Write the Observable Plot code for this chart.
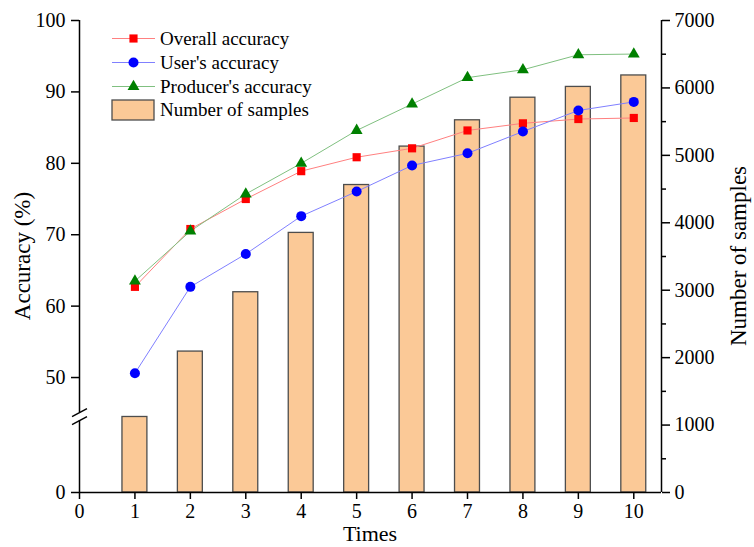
<!DOCTYPE html>
<html><head><meta charset="utf-8">
<script src="https://cdn.jsdelivr.net/npm/d3@7"></script>
<script src="https://cdn.jsdelivr.net/npm/@observablehq/plot@0.6"></script>
<style>
body{margin:0;background:#fff;}
#chart{width:754px;height:547px;}
</style></head><body><div id="chart"></div>
<script>
// ---- data ----
const times = [1, 2, 3, 4, 5, 6, 7, 8, 9, 10];
const overallAccuracy = [62.7, 70.8, 75.0, 78.9, 80.85, 82.1, 84.6, 85.6, 86.2, 86.35];
const usersAccuracy = [50.6, 62.7, 67.3, 72.6, 76.05, 79.7, 81.4, 84.45, 87.4, 88.6];
const producersAccuracy = [63.5, 70.5, 75.7, 80.0, 84.6, 88.3, 92.0, 93.1, 95.2, 95.3];
const numberOfSamples = [1120, 2090, 2970, 3850, 4560, 5130, 5520, 5855, 6015, 6185];
const xTicks = [0, 1, 2, 3, 4, 5, 6, 7, 8, 9, 10];
const accTicks = [0, 50, 60, 70, 80, 90, 100];
const sampleTicks = [0, 1000, 2000, 3000, 4000, 5000, 6000, 7000];
const sampleMinorTicks = [500, 1500, 2500, 3500, 4500, 5500, 6500];
const seriesNames = ["Overall accuracy", "User's accuracy", "Producer's accuracy", "Number of samples"];

// dual axis: broken left accuracy axis (0 | 50..100) expressed in right-axis units
const accToS = d3.scaleLinear().domain([0, 50, 100]).range([0, 1705, 7000]);
const breakAcc = 33;

const rows = times.map((t, i) => ({
  t, overall: overallAccuracy[i], user: usersAccuracy[i], producer: producersAccuracy[i], n: numberOfSamples[i]
}));

const font = "'Liberation Serif','Times New Roman',serif";
const halfW = 0.225;
const pxPerS = 472 / 7000;
const breakS = accToS(breakAcc);
const slashRise = 8 / pxPerS;
const gapS = 4 / pxPerS;

const lineCol = {overall: "#ff8080", user: "#8080ff", producer: "#80c080"};
const dotCol = {overall: "#ff0000", user: "#0000ff", producer: "#008000"};

const plot = Plot.plot({
  width: 754, height: 547,
  marginLeft: 79, marginRight: 93, marginTop: 20, marginBottom: 55,
  style: {fontFamily: font, fontSize: "20px", color: "#000", background: "#fff", overflow: "visible"},
  x: {domain: [0, 10.5]},
  y: {domain: [0, 7000]},
  marks: [
    Plot.rect(rows, {x1: d => d.t - halfW, x2: d => d.t + halfW, y1: 0, y2: "n",
      fill: "#fbc997", stroke: "#4d4d4d", strokeWidth: 1.3}),
    Plot.line(rows, {x: "t", y: d => accToS(d.overall), stroke: lineCol.overall, strokeWidth: 1}),
    Plot.line(rows, {x: "t", y: d => accToS(d.user), stroke: lineCol.user, strokeWidth: 1}),
    Plot.line(rows, {x: "t", y: d => accToS(d.producer), stroke: lineCol.producer, strokeWidth: 1}),
    Plot.dot(rows, {x: "t", y: d => accToS(d.overall), symbol: "square", r: 4.6, fill: dotCol.overall}),
    Plot.dot(rows, {x: "t", y: d => accToS(d.user), symbol: "circle", r: 5, fill: dotCol.user}),
    Plot.dot(rows, {x: "t", y: d => accToS(d.producer), symbol: "triangle", r: 4.4, fill: dotCol.producer}),
    // axis lines
    Plot.ruleX([0], {y1: 0, y2: breakS - gapS, stroke: "#000", strokeWidth: 1.5}),
    Plot.ruleX([0], {y1: breakS + gapS, y2: 7000, stroke: "#000", strokeWidth: 1.5}),
    Plot.ruleX([10.5], {y1: 0, y2: 7000, stroke: "#000", strokeWidth: 1.5}),
    Plot.ruleY([0], {x1: 0, x2: 10.5, stroke: "#000", strokeWidth: 1.5}),
    // axis break slashes
    Plot.link([0], {x1: -0.135, x2: 0.135, y1: breakS, y2: breakS + slashRise, stroke: "#000", strokeWidth: 1.5}),
    Plot.link([0], {x1: -0.135, x2: 0.135, y1: breakS - slashRise, y2: breakS, stroke: "#000", strokeWidth: 1.5}),
    // axes
    Plot.axisX({ticks: xTicks, tickSize: 7, tickPadding: 4, tickFormat: d => String(d), label: null, strokeWidth: 1.5}),
    Plot.axisY({anchor: "left", ticks: accTicks.map(a => accToS(a)), tickSize: 8, tickPadding: 6,
      tickFormat: v => String(Math.round(accToS.invert(v))), label: null, strokeWidth: 1.5}),
    Plot.axisY({anchor: "right", ticks: sampleTicks, tickSize: 8, tickPadding: 5,
      tickFormat: d => String(d), label: null, strokeWidth: 1.5}),
    Plot.axisY({anchor: "right", ticks: sampleMinorTicks, tickSize: 4, tickFormat: () => "", label: null, strokeWidth: 1.5})
  ]
});
document.getElementById("chart").appendChild(plot);

// titles and legend
const svg = d3.select(plot);
const g = svg.append("g").attr("font-family", font).attr("fill", "#000");
g.append("text").attr("x", 370).attr("y", 541).attr("text-anchor", "middle").attr("font-size", 22).text("Times");
g.append("text").attr("transform", "translate(30,256) rotate(-90)").attr("text-anchor", "middle").attr("font-size", 23).text("Accuracy (%)");
g.append("text").attr("transform", "translate(746,256) rotate(-90)").attr("text-anchor", "middle").attr("font-size", 23).text("Number of samples");

const leg = g.append("g").attr("text-anchor", "start");
const legendRows = [
  {key: "overall", sym: d3.symbolSquare, r: 4.6},
  {key: "user", sym: d3.symbolCircle, r: 5},
  {key: "producer", sym: d3.symbolTriangle, r: 4.4}
];
const rowY = [38.5, 62.5, 86.5, 110];
legendRows.forEach((row, i) => {
  const y = rowY[i];
  leg.append("line").attr("x1", 112).attr("x2", 155).attr("y1", y).attr("y2", y)
    .attr("stroke", lineCol[row.key]).attr("stroke-width", 1);
  leg.append("path").attr("transform", `translate(133.5,${y})`)
    .attr("d", d3.symbol(row.sym, Math.PI * row.r * row.r)()).attr("fill", dotCol[row.key]);
  leg.append("text").attr("x", 160).attr("y", y).attr("dy", "0.33em").attr("text-anchor", "start")
    .attr("font-size", 19).text(seriesNames[i]);
});
leg.append("rect").attr("x", 112).attr("y", 100).attr("width", 42).attr("height", 20)
  .attr("fill", "#fbc997").attr("stroke", "#4d4d4d").attr("stroke-width", 1.3);
leg.append("text").attr("x", 160).attr("y", rowY[3]).attr("dy", "0.33em").attr("text-anchor", "start")
  .attr("font-size", 19).text(seriesNames[3]);
</script></body></html>
